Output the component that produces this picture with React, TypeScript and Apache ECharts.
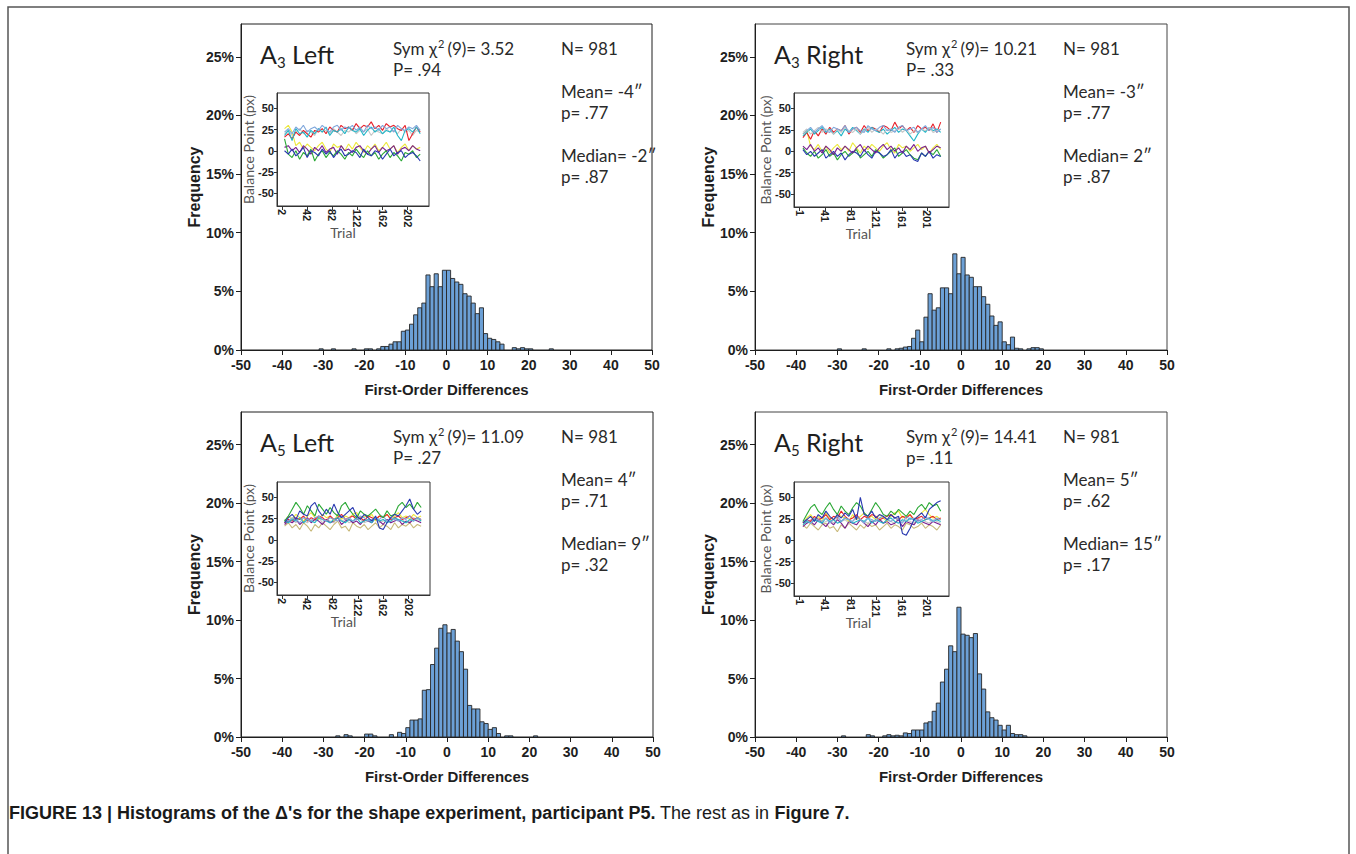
import React, { useEffect, useRef } from "react";
import * as echarts from "echarts";

// ---------- DATA ----------
const BIN_START = [-31,-30,-29,-28,-27,-26,-25,-24,-23,-22,-21,-20,-19,-18,-17,-16,-15,-14,-13,-12,-11,-10,-9,-8,-7,-6,-5,-4,-3,-2,-1,0,1,2,3,4,5,6,7,8,9,10,11,12,13,14,15,16,17,18,19,20,21,22,23,24,25];

const FREQ_A3L = [0.1,0,0,0.1,0,0,0,0,0.1,0, 0,0.1,0.1,0,0.1,0.3,0.3,0.5,0.7,0.7, 1.6,1.7,2.2,3.0,3.6,4.0,6.4,5.4,6.5,5.4, 6.8,6.8,6.1,5.8,5.6,4.8,4.6,4.0,3.1,3.6, 1.4,1.0,0.9,0.7,0.5,0,0,0.2,0.1,0.2, 0.1,0.1,0,0,0,0,0.1];
const FREQ_A3R = [0,0.1,0,0,0,0,0,0.1,0,0, 0,0,0,0.1,0,0.1,0.15,0.25,0.3,1.0, 1.7,0.7,2.8,4.8,3.4,3.6,5.3,5.3,4.8,8.2, 6.5,7.9,6.4,6.2,5.4,5.4,4.55,3.9,2.9,2.1, 2.4,0.7,0.45,1.1,0.15,0.1,0,0.1,0.2,0.2, 0.1,0,0,0,0,0,0];
const FREQ_A5L = [0,0,0,0,0.1,0,0.2,0.1,0,0, 0,0.25,0.25,0.1,0,0,0,0.2,0,0.4, 0.3,0.8,1.45,1.45,1.55,4.0,4.05,6.2,7.6,9.3, 9.6,8.9,9.2,8.2,7.3,5.8,2.7,2.4,2.4,1.3, 1.15,0.65,0.8,0.3,0,0.1,0.1,0,0,0, 0,0,0.1,0,0,0,0];
const FREQ_A5R = [0,0,0.1,0,0,0,0,0,0.2,0.1, 0,0,0.1,0.2,0.1,0.15,0.1,0.35,0.3,0.6, 0.6,0.6,1.2,1.3,2.2,2.9,4.7,5.8,7.8,7.3, 11.1,8.8,8.7,8.5,8.85,5.4,4.1,2.15,1.65,1.45, 1.0,0.6,1.0,0.3,0.2,0.2,0.1,0,0,0, 0,0,0,0,0,0,0];

const Y_TICKS = [0, 5, 10, 15, 20, 25];
const INSET_Y_TICKS = [-50, -25, 0, 25, 50];
const TRIAL_TICKS_LEFT = [2, 42, 82, 122, 162, 202];
const TRIAL_TICKS_RIGHT = [1, 41, 81, 121, 161, 201];

const TRIALS = [6,12,18,24,30,36,42,48,54,60,66,72,78,84,90,96,102,108,114,120,126,132,138,144,150,156,162,168,174,180,186,192,198,204,210,216,222];

// A3 Left inset
const A3L_LIGHTBLUE = [22,26,20,28,24,30,22,26,28,24,30,26,22,28,30,24,28,26,30,24,28,22,30,26,28,24,30,26,28,22,30,26,24,28,26,30,24];
const A3L_CYAN = [18,24,12,26,20,22,16,24,20,26,22,28,18,24,22,26,20,28,24,22,26,18,24,28,22,26,20,24,22,28,18,12,24,26,22,28,20];
const A3L_RED = [16,20,14,22,18,24,20,16,24,22,26,20,28,24,22,30,26,28,24,32,26,30,28,34,26,30,24,32,28,30,26,24,30,12,20,28,22];
const A3L_GRAY = [20,24,18,22,26,20,24,22,18,26,22,24,20,26,22,18,24,22,26,20,24,22,26,18,24,22,20,26,22,24,20,26,22,24,18,24,22];
const A3L_YELLOW = [26,30,22,6,10,2,8,4,0,6,10,2,-2,8,4,6,0,8,2,10,4,-2,6,2,8,0,4,10,2,6,-2,4,8,0,6,2,4];
const A3L_PURPLE = [4,6,0,4,-2,6,2,-4,4,0,6,-2,2,4,-4,6,0,2,-2,4,6,0,-4,2,6,-2,4,0,2,6,-4,2,4,0,6,2,0];
const A3L_GREEN = [14,-4,-8,0,-10,-2,-6,2,-12,-4,0,-8,-2,-6,0,-4,-10,-2,-6,2,-4,-8,0,-6,-2,-10,-4,0,-8,-2,-6,-12,-2,-4,0,-8,-4];
const A3L_BLUE = [0,-4,2,-6,-2,4,-8,0,-2,-6,2,-4,0,-8,-2,2,-6,-4,0,-2,-8,2,-4,-6,0,-2,-10,-4,2,-6,-2,0,-8,-4,-2,-6,-12];

// A3 Right inset
const A3R_LIGHTBLUE = [20,24,28,22,26,30,24,22,28,26,24,30,22,26,28,24,22,30,26,24,28,30,24,26,22,28,30,24,26,28,22,26,30,24,28,22,26];
const A3R_CYAN = [18,22,26,20,24,28,22,26,20,24,18,26,22,28,24,20,26,22,28,24,22,26,20,24,28,22,26,24,18,12,20,26,22,28,24,26,22];
const A3R_RED = [16,22,14,24,18,26,20,28,22,26,24,30,20,26,28,22,30,24,28,26,22,30,28,24,34,26,30,24,28,22,30,26,28,24,32,22,34];
const A3R_GRAY = [22,26,20,24,28,22,26,24,20,26,22,28,24,22,26,20,24,28,22,26,24,20,26,22,24,28,22,26,20,24,22,26,24,28,22,24,26];
const A3R_YELLOW = [20,24,6,2,8,0,6,-2,4,8,2,6,0,10,4,-2,6,2,8,4,0,6,10,2,-2,8,4,6,0,4,8,2,6,-2,4,8,2];
const A3R_PURPLE = [6,2,8,0,4,-2,6,2,-4,4,0,6,2,-2,4,8,0,6,2,-2,4,8,2,6,0,4,-2,6,2,8,0,4,6,-2,2,6,4];
const A3R_GREEN = [4,-2,-6,0,-8,-4,2,-6,-2,-10,-4,0,-6,-2,2,-8,-4,0,-6,2,-2,-8,-4,0,4,-6,-2,2,-4,-8,-10,-2,-6,0,-4,2,-6];
const A3R_BLUE = [2,-4,0,-6,-2,2,-8,-4,0,-6,-2,-10,-4,0,-2,-6,2,-4,-8,0,-2,-6,-4,2,-8,-2,0,-6,-4,-10,-12,-2,-6,0,-8,-4,-6];

// A5 Left inset
const A5L_TAN = [16,20,14,18,12,20,16,10,18,14,20,16,12,18,22,14,16,10,20,16,14,18,12,16,20,14,18,16,12,20,14,18,16,20,14,18,16];
const A5L_GRAY = [20,22,24,20,26,22,20,24,22,26,20,24,22,20,26,22,24,20,22,26,24,20,22,24,26,20,22,24,20,26,22,24,20,22,26,24,22];
const A5L_PURPLE = [18,22,20,24,18,22,26,20,24,22,18,24,20,22,26,18,22,24,20,22,18,24,22,20,26,22,18,24,20,22,24,18,22,20,24,22,20];
const A5L_YELLOW = [22,28,24,30,26,22,28,32,26,24,30,26,28,22,30,24,28,26,30,32,24,28,26,30,22,28,26,30,24,28,32,26,28,24,30,26,28];
const A5L_RED = [20,24,22,26,24,28,22,26,24,28,26,22,28,24,26,30,24,26,28,24,26,22,28,26,24,28,26,30,24,26,28,24,26,28,24,26,24];
const A5L_CYAN = [22,20,24,22,26,20,24,22,20,26,24,22,20,24,26,22,20,24,22,26,20,22,24,20,26,22,24,20,22,26,24,22,20,24,22,26,22];
const A5L_LIGHTBLUE = [24,22,26,24,20,26,24,22,26,28,24,22,26,24,22,28,24,26,22,24,28,26,22,24,26,24,28,22,26,24,22,26,24,28,22,26,24];
const A5L_GREEN = [22,28,36,44,38,30,40,34,28,42,36,30,38,32,28,40,44,36,30,26,34,30,28,32,36,30,26,34,28,30,40,44,38,42,36,44,38];
const A5L_BLUE = [20,26,30,24,34,30,28,40,44,34,28,36,30,42,32,26,30,34,38,28,24,30,26,22,28,14,12,20,26,30,28,34,40,48,36,30,34];

// A5 Right inset
const A5R_TAN = [18,14,20,16,12,18,20,14,16,10,18,14,20,16,12,18,14,20,16,18,12,16,20,14,18,16,12,20,18,14,16,20,14,18,16,12,18];
const A5R_GRAY = [22,20,24,22,26,20,22,24,20,26,22,24,20,22,26,24,22,20,24,22,26,20,24,22,20,26,22,24,22,20,26,24,22,20,24,22,20];
const A5R_PURPLE = [16,20,22,18,24,20,16,22,18,24,20,14,22,20,18,24,20,16,22,18,24,20,22,18,20,24,16,22,20,18,24,22,20,18,22,20,18];
const A5R_YELLOW = [20,26,30,24,28,22,32,26,24,30,28,26,22,30,24,28,32,26,28,24,30,26,22,28,32,34,26,28,30,24,28,32,36,30,26,28,24];
const A5R_RED = [20,24,22,28,24,26,30,24,28,26,34,28,24,26,30,24,28,26,30,28,24,26,28,30,26,24,28,26,30,24,26,28,24,26,28,24,26];
const A5R_CYAN = [18,22,20,24,22,20,26,22,24,20,22,26,24,20,22,24,22,26,20,24,22,20,24,26,22,20,24,22,26,24,20,22,24,26,22,24,22];
const A5R_LIGHTBLUE = [22,24,20,26,24,22,26,20,24,28,22,26,24,22,28,24,20,26,24,22,26,28,24,22,26,24,20,28,24,26,22,24,28,24,22,26,24];
const A5R_GREEN = [22,30,38,42,34,30,38,44,36,30,40,34,30,38,44,40,32,28,36,44,38,30,28,34,30,36,32,28,34,30,38,42,36,44,40,42,34];
const A5R_BLUE = [20,24,28,22,30,26,34,28,24,30,26,32,28,36,24,50,30,28,34,26,30,28,24,30,26,28,8,6,14,24,28,32,26,36,40,44,46];

// Annotation texts
const TITLE_SUB = ["3", "3", "5", "5"];
const TITLE_SIDE = ["Left", "Right", "Left", "Right"];
const CHI_VALUES = ["3.52", "10.21", "11.09", "14.41"];
const CHI_P_LABEL = ["P", "P", "P", "p"];
const CHI_P = [".94", ".33", ".27", ".11"];
const N_VALUES = ["981", "981", "981", "981"];
const MEAN_VALUES = ["-4", "-3", "4", "5"];
const MEAN_P = [".77", ".77", ".71", ".62"];
const MEDIAN_VALUES = ["-2", "2", "9", "15"];
const MEDIAN_P = [".87", ".87", ".32", ".17"];

// ---------- STYLE ----------
const C = {
  red: "#e8202a",
  cyan: "#22b6c8",
  lightblue: "#7fa7dc",
  gray: "#c6c6c6",
  yellow: "#ece83a",
  purple: "#7a2090",
  green: "#2aa835",
  blue: "#2838b0",
  tan: "#c9b97a",
};

const INSET_LINES = [
  [
    [C.gray, A3L_GRAY], [C.yellow, A3L_YELLOW], [C.purple, A3L_PURPLE], [C.green, A3L_GREEN], [C.blue, A3L_BLUE],
    [C.red, A3L_RED], [C.cyan, A3L_CYAN], [C.lightblue, A3L_LIGHTBLUE],
  ],
  [
    [C.yellow, A3R_YELLOW], [C.green, A3R_GREEN], [C.blue, A3R_BLUE], [C.purple, A3R_PURPLE],
    [C.red, A3R_RED], [C.cyan, A3R_CYAN], [C.gray, A3R_GRAY], [C.lightblue, A3R_LIGHTBLUE],
  ],
  [
    [C.tan, A5L_TAN], [C.gray, A5L_GRAY], [C.purple, A5L_PURPLE], [C.yellow, A5L_YELLOW], [C.red, A5L_RED],
    [C.cyan, A5L_CYAN], [C.lightblue, A5L_LIGHTBLUE], [C.green, A5L_GREEN], [C.blue, A5L_BLUE],
  ],
  [
    [C.tan, A5R_TAN], [C.gray, A5R_GRAY], [C.purple, A5R_PURPLE], [C.yellow, A5R_YELLOW], [C.red, A5R_RED],
    [C.cyan, A5R_CYAN], [C.lightblue, A5R_LIGHTBLUE], [C.green, A5R_GREEN], [C.blue, A5R_BLUE],
  ],
] as [string, number[]][][];

const FREQS = [FREQ_A3L, FREQ_A3R, FREQ_A5L, FREQ_A5R];

const MAIN = [
  { l: 241, t: 24, w: 411, h: 326 },
  { l: 755, t: 24, w: 412, h: 326 },
  { l: 241, t: 412, w: 412, h: 325 },
  { l: 755, t: 412, w: 412, h: 325 },
];
const INSET = [
  { l: 277, t: 93, w: 152, h: 113 },
  { l: 794, t: 93, w: 155, h: 114 },
  { l: 277, t: 482, w: 153, h: 113 },
  { l: 794, t: 482, w: 155, h: 114 },
];

const ARIAL = "'Liberation Sans', Arial, Helvetica, sans-serif";
const CAL = "Lato, 'Open Sans', 'Noto Sans', sans-serif";
const INK = "#1e1e1e";
const BAR_FILL = "#6ca0d6";
const BAR_STROKE = "#262626";

function buildOption() {
  const grids: any[] = [];
  const xAxes: any[] = [];
  const yAxes: any[] = [];
  const series: any[] = [];
  const elements: any[] = [];

  MAIN.forEach((m, i) => {
    grids.push({ left: m.l, top: m.t, width: m.w, height: m.h, show: true, borderColor: i % 2 === 1 ? "#444" : INK, borderWidth: 1, backgroundColor: "transparent" });
  });
  INSET.forEach((g) => {
    grids.push({ left: g.l, top: g.t, width: g.w, height: g.h, show: true, borderColor: "#333", borderWidth: 1, backgroundColor: "#fff" });
  });

  for (let i = 0; i < 4; i++) {
    xAxes.push({
      type: "value", gridIndex: i, min: -50, max: 50, interval: 10,
      axisLine: { show: true, onZero: false, lineStyle: { color: INK, width: 1 } },
      axisTick: { show: true, length: 5, lineStyle: { color: INK } },
      axisLabel: { fontFamily: ARIAL, fontWeight: "bold", fontSize: 14, color: INK, margin: 8 },
      splitLine: { show: false },
      name: "First-Order Differences", nameLocation: "middle", nameGap: 32, nameMoveOverlap: false,
      nameTextStyle: { fontFamily: ARIAL, fontWeight: "bold", fontSize: 15, color: INK },
    });
    yAxes.push({
      type: "value", gridIndex: i, min: 0, max: 27.8,
      axisLine: { show: true, onZero: false, lineStyle: { color: INK, width: 1 } },
      axisTick: { show: true, length: 5, customValues: Y_TICKS, lineStyle: { color: INK } },
      axisLabel: { customValues: Y_TICKS, formatter: "{value}%", fontFamily: ARIAL, fontWeight: "bold", fontSize: 14, color: INK, margin: 7 },
      splitLine: { show: false },
      name: "Frequency", nameLocation: "middle", nameGap: 39, nameMoveOverlap: false,
      nameTextStyle: { fontFamily: ARIAL, fontWeight: "bold", fontSize: 16, color: INK },
    });
  }
  for (let i = 0; i < 4; i++) {
    const left = i % 2 === 0;
    const ticks = left ? TRIAL_TICKS_LEFT : TRIAL_TICKS_RIGHT;
    xAxes.push({
      type: "value", gridIndex: 4 + i, min: left ? -6 : -8, max: left ? 236 : 235,
      axisLine: { show: true, onZero: false, lineStyle: { color: "#333" } },
      axisTick: { show: true, length: 4, customValues: ticks, lineStyle: { color: "#333" } },
      axisLabel: { customValues: ticks, rotate: -90, fontFamily: ARIAL, fontWeight: "bold", fontSize: 11, color: INK, margin: 3 },
      splitLine: { show: false },
      name: "Trial", nameLocation: "middle", nameGap: 19, nameMoveOverlap: false,
      nameTextStyle: { fontFamily: CAL, fontSize: 14, color: "#555", padding: [0, left ? 20 : 26, 0, 0] },
    });
    yAxes.push({
      type: "value", gridIndex: 4 + i, min: -65, max: 68,
      axisLine: { show: true, onZero: false, lineStyle: { color: "#333" } },
      axisTick: { show: true, length: 3, customValues: INSET_Y_TICKS, lineStyle: { color: "#333" } },
      axisLabel: { customValues: INSET_Y_TICKS, fontFamily: ARIAL, fontWeight: "bold", fontSize: 11, color: INK, margin: 3 },
      splitLine: { show: false },
      name: "Balance Point (px)", nameLocation: "middle", nameGap: 22, nameMoveOverlap: false,
      nameTextStyle: { fontFamily: CAL, fontSize: 14, color: "#555" },
    });
  }

  FREQS.forEach((freq, i) => {
    series.push({
      type: "custom", xAxisIndex: i, yAxisIndex: i, silent: true,
      encode: { x: 0, y: 1 },
      data: BIN_START.map((b, j) => [b, freq[j]]).filter((d) => d[1] > 0),
      renderItem: (_params: any, api: any) => {
        const x0 = api.value(0);
        const h = api.value(1);
        const p0 = api.coord([x0, h]);
        const p1 = api.coord([x0 + 1, 0]);
        return {
          type: "rect",
          shape: { x: p0[0], y: p0[1], width: p1[0] - p0[0], height: p1[1] - p0[1] },
          style: { fill: BAR_FILL, stroke: BAR_STROKE, lineWidth: 0.9 },
        };
      },
    });
  });

  INSET_LINES.forEach((lines, i) => {
    lines.forEach(([color, vals]) => {
      series.push({
        type: "line", xAxisIndex: 4 + i, yAxisIndex: 4 + i, silent: true,
        showSymbol: false, symbol: "none",
        data: TRIALS.map((t, j) => [t, vals[j]]),
        lineStyle: { color, width: 1.1 },
      });
    });
  });

  for (let i = 0; i < 4; i++) {
    const T = MAIN[i].t;
    const left = i % 2 === 0;
    const ax = left ? 260 : 774;
    const sx = left ? 393 : 906;
    const nx = left ? 561 : 1063;
    const plain = (text: string, x: number, y: number) => ({
      type: "text", x, y, silent: true,
      style: { text, fontFamily: CAL, fontSize: 17, fill: "#2a2a2a", verticalAlign: "middle", align: "left" },
    });
    elements.push({
      type: "text", x: ax, y: T + 30, silent: true,
      style: {
        text: `{a|A}{s|${TITLE_SUB[i]}}{a| ${TITLE_SIDE[i]}}`,
        verticalAlign: "middle", align: "left",
        rich: {
          a: { fontFamily: CAL, fontSize: 25, fill: INK, lineHeight: 30 },
          s: { fontFamily: CAL, fontSize: 15, fill: INK, lineHeight: 12, verticalAlign: "bottom" },
        },
      },
    });
    elements.push({
      type: "text", x: sx, y: T + 24.2, silent: true,
      style: {
        text: `{t|Sym χ}{u|2}{t|(9)= ${CHI_VALUES[i]}}`,
        verticalAlign: "middle", align: "left",
        rich: {
          t: { fontFamily: CAL, fontSize: 17, fill: "#2a2a2a", lineHeight: 20 },
          u: { fontFamily: CAL, fontSize: 11, fill: "#2a2a2a", lineHeight: 12, verticalAlign: "top", padding: [0, 3, 0, 1] },
        },
      },
    });
    elements.push(plain(`${CHI_P_LABEL[i]}= ${CHI_P[i]}`, sx, T + 45.5));
    elements.push(plain(`N= ${N_VALUES[i]}`, nx, T + 24.2));
    elements.push(plain(`Mean= ${MEAN_VALUES[i]}\u2033`, nx, T + 67.3));
    elements.push(plain(`p= ${MEAN_P[i]}`, nx, T + 88.2));
    elements.push(plain(`Median= ${MEDIAN_VALUES[i]}\u2033`, nx, T + 131.1));
    elements.push(plain(`p= ${MEDIAN_P[i]}`, nx, T + 152));
  }

  elements.push({
    type: "rect", silent: true,
    shape: { x: 8, y: 7, width: 1341, height: 900 },
    style: { fill: "none", stroke: "#555", lineWidth: 1.5 },
  });
  elements.push({
    type: "text", x: 9, y: 813, silent: true,
    style: {
      text: "{b|FIGURE 13 | Histograms of the Δ's for the shape experiment, participant P5.}{n| The rest as in }{b|Figure 7.}",
      verticalAlign: "middle", align: "left",
      rich: {
        b: { fontFamily: ARIAL, fontWeight: "bold", fontSize: 18, fill: "#1a1a1a" },
        n: { fontFamily: ARIAL, fontSize: 18, fill: "#1a1a1a" },
      },
    },
  });

  return {
    animation: false,
    backgroundColor: "#fff",
    grid: grids,
    xAxis: xAxes,
    yAxis: yAxes,
    series,
    graphic: { elements },
  };
}

export default function App() {
  const ref = useRef<HTMLDivElement>(null);
  useEffect(() => {
    if (!ref.current) return;
    const chart = echarts.init(ref.current, undefined, { renderer: "svg" });
    chart.setOption(buildOption() as any);
    return () => chart.dispose();
  }, []);
  return (
    <div
      ref={ref}
      style={{ position: "fixed", left: 0, top: 0, width: 1356, height: 854, background: "#fff" }}
    />
  );
}
